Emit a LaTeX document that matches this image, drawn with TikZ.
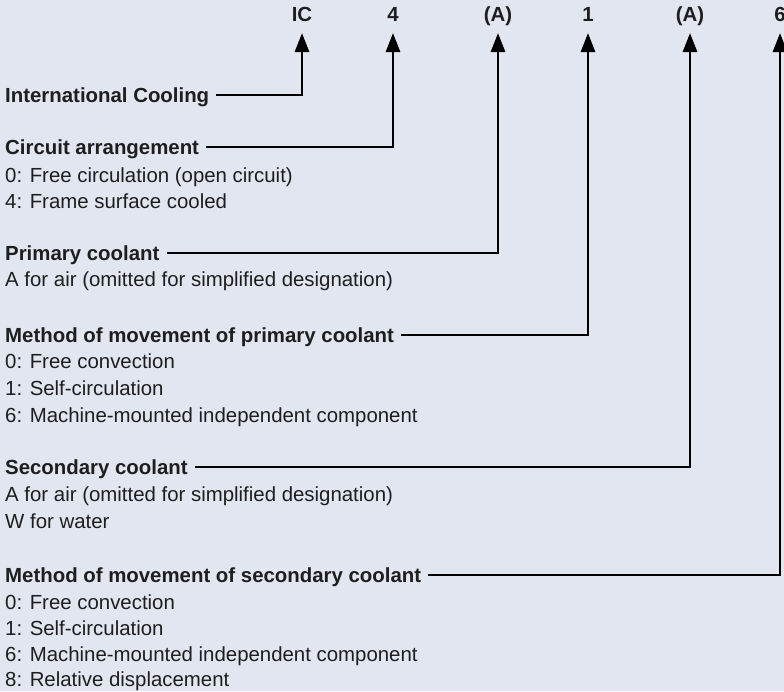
\documentclass[tikz,border=0pt]{standalone}
\usepackage{fontspec}
\setmainfont{Liberation Sans}
\usetikzlibrary{arrows.meta}
\definecolor{bg}{HTML}{E2E6F1}
\definecolor{txt}{HTML}{1E1E1E}
\begin{document}
\begin{tikzpicture}[x=1pt,y=-1pt,
  txtnode/.style={anchor=base west,inner sep=0pt,font=\fontsize{20.4}{24}\selectfont,text=txt},
  head/.style={txtnode,font=\fontsize{20.4}{24}\selectfont\bfseries},
  code/.style={anchor=base,inner sep=0pt,font=\fontsize{20.4}{24}\selectfont\bfseries,text=txt},
  conn/.style={line width=2.8pt,line join=miter,-{Triangle[length=19pt,width=14pt]}}]
\fill[bg] (0,0) rectangle (784,691);
\useasboundingbox (0,0) rectangle (784,691);
% top code letters
\node[code] (cIC) at (302,21) {IC};
\node[code] (c4)  at (393,21) {4};
\node[code] (cA1) at (498,21) {(A)};
\node[code] (c1)  at (588,21) {1};
\node[code] (cA2) at (690,21) {(A)};
\node[code] (c6)  at (780,21) {6};
% blocks
\node[head] (hIC) at (5,102) {International Cooling};
\node[head] (hCA) at (5,154) {Circuit arrangement};
\node[txtnode] (ca0) at (5,182) {0: Free circulation (open circuit)};
\node[txtnode] (ca4) at (5,208) {4: Frame surface cooled};
\node[head] (hPC) at (5,260) {Primary coolant};
\node[txtnode] (pcA) at (5,286) {A for air (omitted for simplified designation)};
\node[head] (hMP) at (5,342) {Method of movement of primary coolant};
\node[txtnode] (mp0) at (5,368) {0: Free convection};
\node[txtnode] (mp1) at (5,395) {1: Self-circulation};
\node[txtnode] (mp6) at (5,422) {6: Machine-mounted independent component};
\node[head] (hSC) at (5,474) {Secondary coolant};
\node[txtnode] (scA) at (5,501) {A for air (omitted for simplified designation)};
\node[txtnode] (scW) at (5,528) {W for water};
\node[head] (hMS) at (5,582) {Method of movement of secondary coolant};
\node[txtnode] (ms0) at (5,609) {0: Free convection};
\node[txtnode] (ms1) at (5,635) {1: Self-circulation};
\node[txtnode] (ms6) at (5,661) {6: Machine-mounted independent component};
\node[txtnode] (ms8) at (5,686) {8: Relative displacement};
% connectors
\draw[conn] ([shift={(7pt,7pt)}]hIC.base east) -| ([yshift=-12pt]cIC.base);
\draw[conn] ([shift={(7pt,7pt)}]hCA.base east) -| ([yshift=-12pt]c4.base);
\draw[conn] ([shift={(7pt,7pt)}]hPC.base east) -| ([yshift=-12pt]cA1.base);
\draw[conn] ([shift={(7pt,7pt)}]hMP.base east) -| ([yshift=-12pt]c1.base);
\draw[conn] ([shift={(7pt,7pt)}]hSC.base east) -| ([yshift=-12pt]cA2.base);
\draw[conn] ([shift={(7pt,7pt)}]hMS.base east) -| ([yshift=-12pt]c6.base);
\end{tikzpicture}
\end{document}
